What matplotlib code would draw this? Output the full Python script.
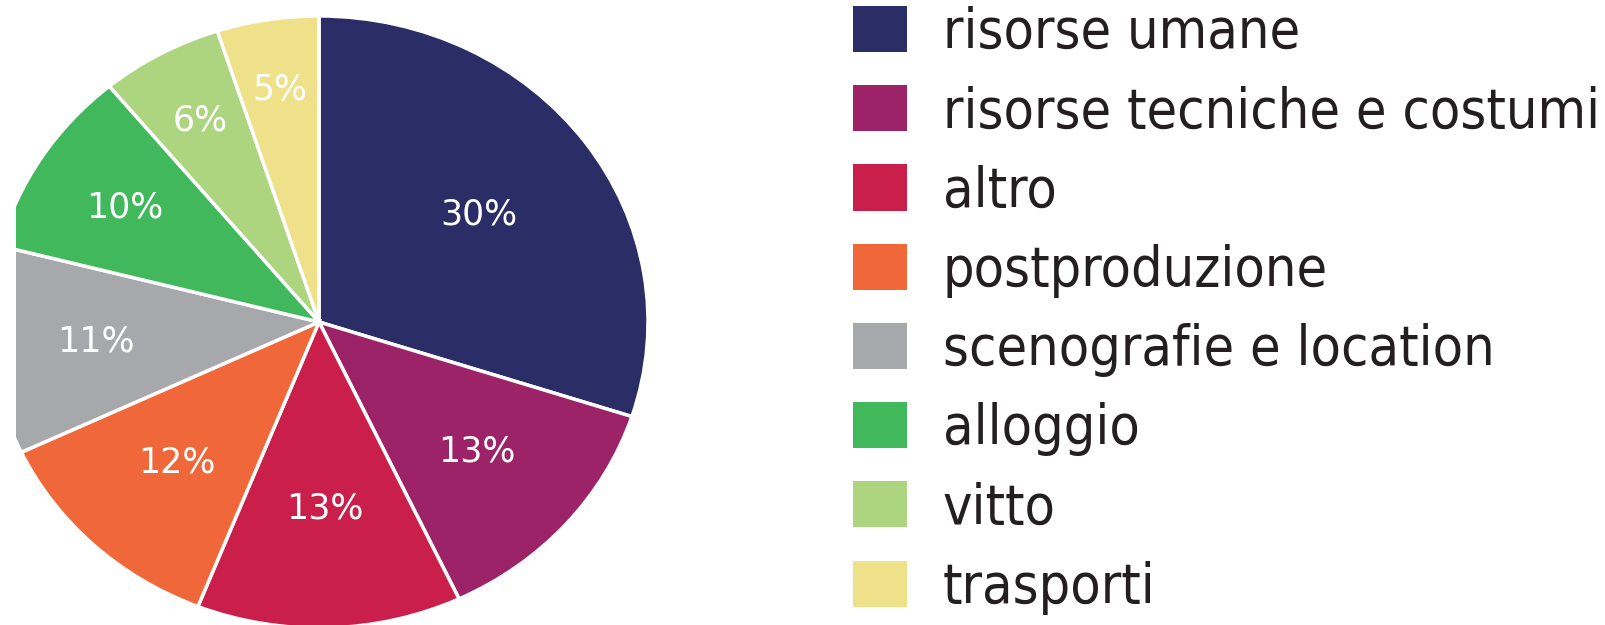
import matplotlib
matplotlib.use("Agg")
import numpy as np
import matplotlib.pyplot as plt
from matplotlib.patches import Patch

categories = ["risorse umane", "risorse tecniche e costumi", "altro", "postproduzione",
              "scenografie e location", "alloggio", "vitto", "trasporti"]
shares = [30, 13, 13, 12, 11, 10, 6, 5]
colors = ["#2a2d66", "#9c2368", "#c91f4a", "#f0673a",
          "#a7a8ac", "#42b85d", "#add580", "#efe08a"]
# how far out each percentage label sits (fraction of radius)
label_radius = [0.60, 0.64, 0.61, 0.63, 0.68, 0.70, 0.75, 0.77]

W, H = 1606, 625
fig = plt.figure(figsize=(W / 100, H / 100), dpi=100)
fonts = ["DejaVu Sans"]

# pie centre / radii in pixels (picture is slightly stretched sideways and cropped)
cx, cy, rx, ry = 319, 322, 329, 306
left_px, right_px = 16, 700
ax = fig.add_axes([left_px / W, 0, (right_px - left_px) / W, 1])
wedges, _ = ax.pie(shares, colors=colors, startangle=90, counterclock=False,
                   wedgeprops=dict(edgecolor="white", linewidth=2.5))
for i, w in enumerate(wedges):
    w.set_clip_on(True)
    w.set_clip_path(ax.patch)
    mid = np.deg2rad((w.theta1 + w.theta2) / 2)
    r = label_radius[i]
    ax.text(r * np.cos(mid), r * np.sin(mid), f"{shares[i]}%", color="white",
            fontsize=25, family=fonts, ha="center", va="center")
ax.set_aspect("auto")
ax.set_xlim((left_px - cx) / rx, (right_px - cx) / rx)
ax.set_ylim((cy - H) / ry, cy / ry)
ax.axis("off")

handles = [Patch(facecolor=c, edgecolor="none") for c in colors]
fs = 40
em = fs * 100 / 72
fig.legend(handles, categories, loc="upper left",
           bbox_to_anchor=(853 / W, 1 - 6 / H), frameon=False,
           prop=dict(family=fonts, size=fs, stretch="condensed"),
           handlelength=54 / em, handleheight=50 / em,
           handletextpad=36 / em,
           labelspacing=0.45, labelcolor="#231f20", borderaxespad=0, borderpad=0)

fig.savefig("out.png", dpi=100, facecolor="white")
